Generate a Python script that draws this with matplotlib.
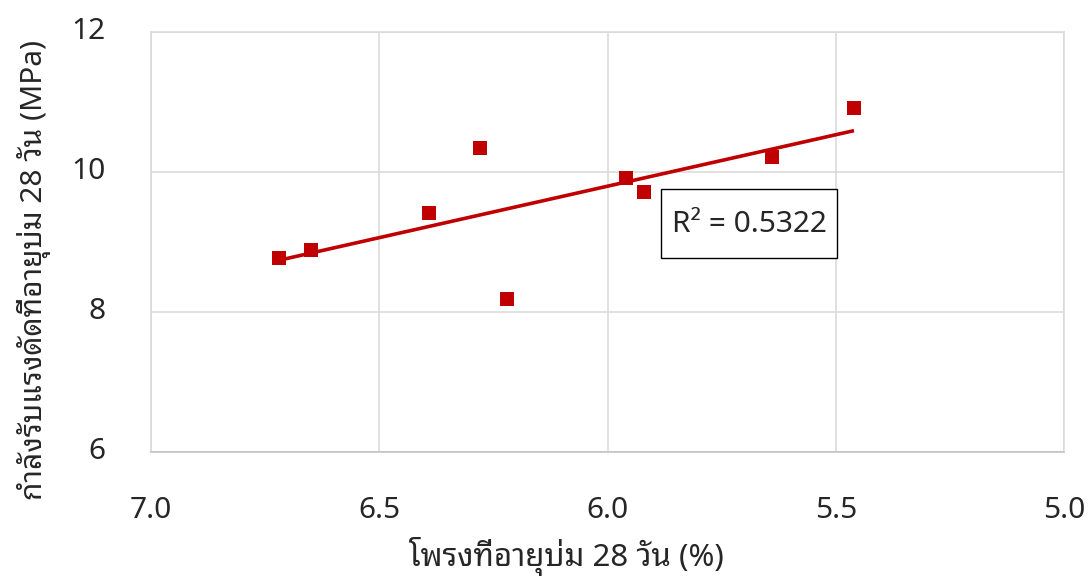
import numpy as np
import matplotlib
matplotlib.use("Agg")
import matplotlib.pyplot as plt
from matplotlib.patches import Rectangle
from matplotlib.transforms import ScaledTranslation

plt.rcParams['font.family'] = ['Noto Sans Thai Looped', 'Noto Sans', 'DejaVu Sans']

# porosity (%) and flexural strength (MPa) at 28 days
porosity = [6.72, 6.65, 6.39, 6.28, 6.22, 5.96, 5.92, 5.64, 5.46]
strength = [8.77, 8.89, 9.42, 10.35, 8.18, 9.91, 9.71, 10.21, 10.91]
r2_text = 'R² = 0.5322'

x_ticks = [7.0, 6.5, 6.0, 5.5, 5.0]
y_ticks = [6, 8, 10, 12]
xlabel = 'โพรงที่อายุบ่ม 28 วัน (%)'
ylabel = 'กำลังรับแรงดัดที่อายุบ่ม 28 วัน (MPa)'

red = '#C00000'
grid_col = '#D9D9D9'
txt_col = '#262626'
W, H = 1088, 581

fig = plt.figure(figsize=(W / 100, H / 100), dpi=100)
ax = fig.add_axes([151 / W, 1 - 452 / H, (1064 - 151) / W, (452 - 32) / H])

x = np.array(porosity)
y = np.array(strength)

# linear trendline over the data range
k, b = np.polyfit(x, y, 1)
xs = np.array([x.max(), x.min()])
ax.plot(xs, k * xs + b, color=red, lw=2.6, solid_capstyle='butt', zorder=3)
ax.plot(x, y, 's', color=red, markersize=10.3, markeredgewidth=0, zorder=4)

ax.set_xlim(7.0, 5.0)
ax.set_ylim(6, 12)
ax.set_xticks(x_ticks)
ax.set_xticklabels([f'{t:.1f}' for t in x_ticks])
ax.set_yticks(y_ticks)
ax.tick_params(length=0, labelsize=21.5, colors=txt_col)
ax.tick_params(axis='x', pad=32)
ax.tick_params(axis='y', pad=33)
# y labels sit slightly above their gridlines
up = ScaledTranslation(0, 4 / 100, fig.dpi_scale_trans)
for lab in ax.get_yticklabels():
    lab.set_transform(lab.get_transform() + up)

ax.grid(True, color=grid_col, lw=1.1)
ax.set_axisbelow(True)
for s in ax.spines.values():
    s.set_color(grid_col)
    s.set_linewidth(1.1)
ax.spines['bottom'].set_color('#BFBFBF')

# R² label box
fig.patches.append(Rectangle((661 / W, 1 - 258 / H), 176 / W, 69 / H,
                             transform=fig.transFigure, fc='white', ec='black',
                             lw=1.0, zorder=5))
fig.text(749 / W, 1 - 224 / H, r2_text, fontsize=21.5, color=txt_col,
         ha='center', va='center', zorder=6)

fig.text(566 / W, 1 - 557 / H, xlabel, fontsize=22.5, color=txt_col,
         ha='center', va='center')
fig.text(34 / W, 1 - 270 / H, ylabel, fontsize=21.5, color=txt_col,
         ha='center', va='center', rotation=90)

fig.savefig('out.png', dpi=100)
